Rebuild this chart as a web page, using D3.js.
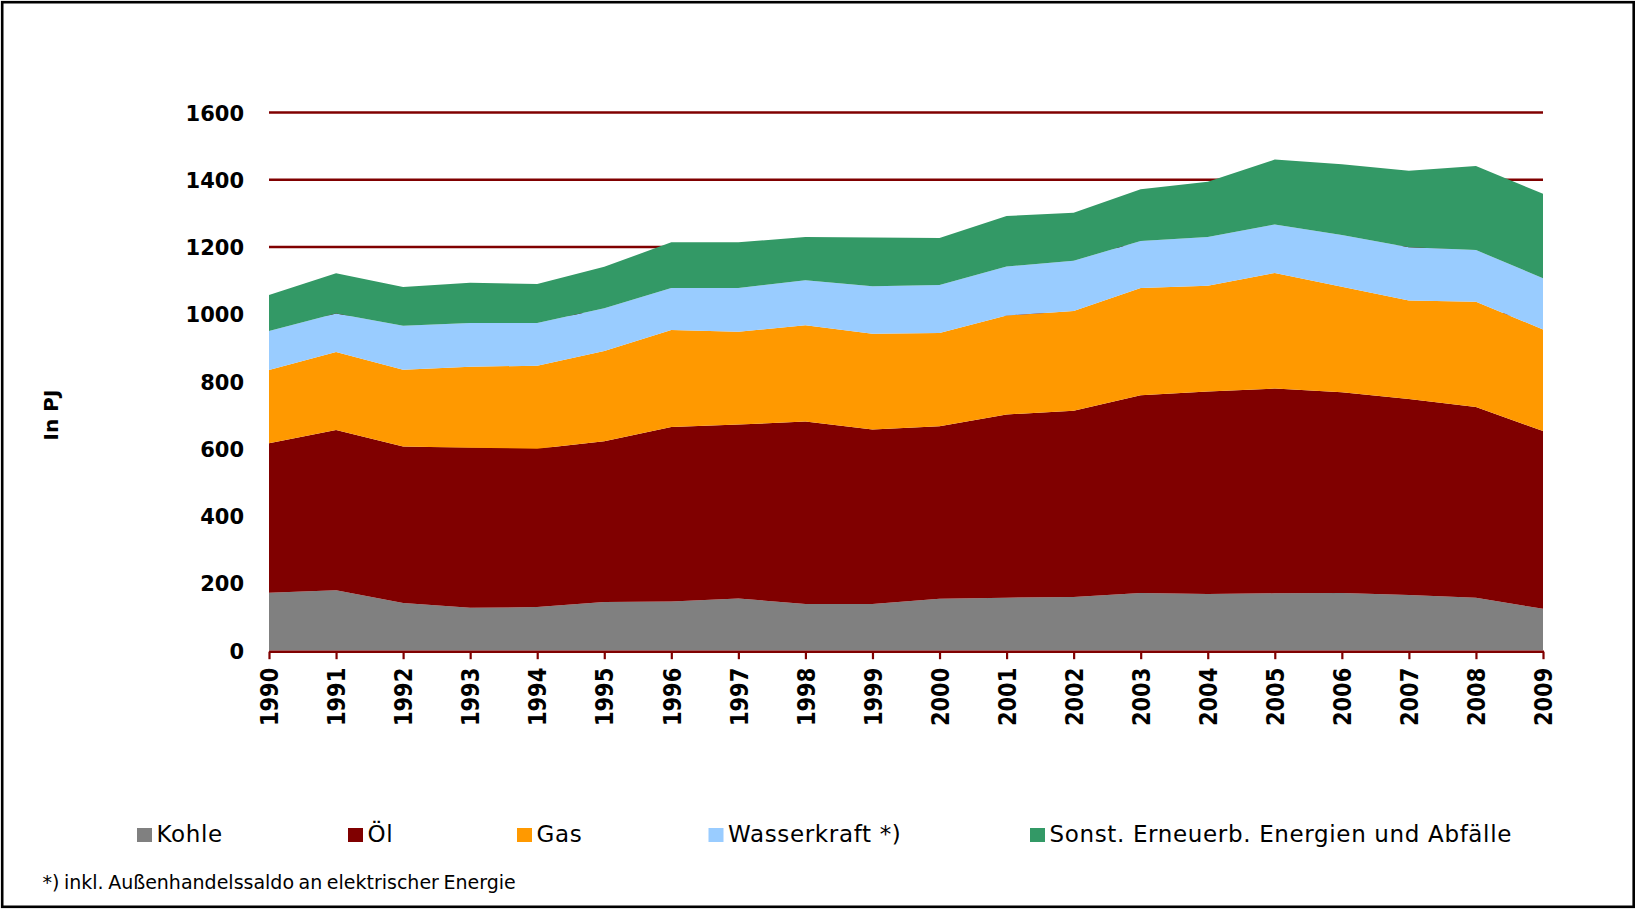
<!DOCTYPE html>
<html>
<head>
<meta charset="utf-8">
<script src="https://cdn.jsdelivr.net/npm/d3@7"></script>
<style>
  html, body { margin: 0; padding: 0; background: #fff; }
  svg { display: block; }
  text { font-family: "DejaVu Sans", Verdana, sans-serif; fill: #000; }
</style>
</head>
<body>
<svg id="chart" width="1635" height="909"></svg>
<script>
// ---- Data (PJ) ----
const years  = [1990,1991,1992,1993,1994,1995,1996,1997,1998,1999,2000,2001,2002,2003,2004,2005,2006,2007,2008,2009];
const kohle  = [172,179,141,127,129,144,146,155,138,138,154,157,159,171,168,170,171,165,157,124];
const oel    = [444,477,466,476,471,478,519,517,543,519,513,545,554,588,602,609,597,583,567,529];
const gas    = [218,232,228,241,247,269,288,276,286,285,277,294,297,319,315,344,314,293,313,302];
const wasser = [116,114,131,130,127,127,125,130,134,141,143,146,149,140,145,144,154,158,154,152];
const sonst  = [107,120,115,120,116,123,136,136,129,145,140,150,143,154,164,193,210,228,250,251];

const seriesNames  = ["Kohle", "Öl", "Gas", "Wasserkraft *)", "Sonst. Erneuerb. Energien und Abfälle"];
const seriesColors = ["#808080", "#800000", "#ff9900", "#99ccff", "#339966"];
const yTicks = [0,200,400,600,800,1000,1200,1400,1600];
const yLabel = "In PJ";
const footnote = "*) inkl. Außenhandelssaldo an elektrischer Energie";

// ---- Build table ----
const keys = ["kohle","oel","gas","wasser","sonst"];
const table = years.map((yr,i) => ({year:yr, kohle:kohle[i], oel:oel[i], gas:gas[i], wasser:wasser[i], sonst:sonst[i]}));

// ---- Layout ----
const svg = d3.select("#chart");
const pLeft = 269, pRight = 1543, pTop = 112.5, pBottom = 650.5;

const x = d3.scaleLinear().domain([years[0], years[years.length-1]]).range([pLeft, pRight]);
const y = d3.scaleLinear().domain([0, 1600]).range([pBottom, pTop]);

// outer border
svg.append("rect")
  .attr("x", 2.2).attr("y", 2.2).attr("width", 1631.5).attr("height", 904.6)
  .attr("fill", "none").attr("stroke", "#000").attr("stroke-width", 2.6);

// gridlines
svg.append("g").selectAll("line").data(yTicks.filter(d => d > 0)).join("line")
  .attr("x1", pLeft).attr("x2", pRight)
  .attr("y1", d => y(d)).attr("y2", d => y(d))
  .attr("stroke", "#800000").attr("stroke-width", 2.4);

// areas
const stack = d3.stack().keys(keys);
const layers = stack(table);
const area = d3.area()
  .x(d => x(d.data.year))
  .y0(d => y(d[0]))
  .y1(d => y(d[1]))
  .curve(d3.curveLinear);

svg.append("g").selectAll("path").data(layers).join("path")
  .attr("d", area)
  .attr("fill", (d,i) => seriesColors[i]);

// x axis
const xAxis = d3.axisBottom(x).tickValues(years).tickFormat(d3.format("d")).tickSize(7.5).tickSizeOuter(0);
const gx = svg.append("g").attr("transform", `translate(0,${pBottom + 1.2})`).call(xAxis);
gx.select(".domain").attr("stroke", "#800000").attr("stroke-width", 2.6)
  .attr("d", `M${pLeft},0H${pRight + 1}`);
gx.selectAll(".tick line").attr("stroke", "#800000").attr("stroke-width", 2.2);
gx.selectAll(".tick text")
  .attr("x", 0).attr("y", 0).attr("dy", "0.36em")
  .attr("transform", "translate(0,16) rotate(-90) scale(1,1.15)")
  .style("text-anchor", "end")
  .style("font-family", "'DejaVu Sans', Verdana, sans-serif")
  .style("font-size", "21px").style("font-weight", "bold").attr("fill", "#000");

// y axis labels
const yAxis = d3.axisLeft(y).tickValues(yTicks).tickFormat(d3.format("d")).tickSize(0).tickPadding(25);
const gy = svg.append("g").attr("transform", `translate(${pLeft},0)`).call(yAxis);
gy.select(".domain").remove();
gy.selectAll(".tick text")
  .attr("dy", "0.36em")
  .style("font-family", "'DejaVu Sans', Verdana, sans-serif")
  .style("font-size", "21px").style("font-weight", "bold").attr("fill", "#000");

// y axis title
svg.append("text")
  .attr("transform", "translate(58,415) rotate(-90)")
  .attr("text-anchor", "middle")
  .style("font-size", "20px").style("font-weight", "bold")
  .text(yLabel);

// legend
const legendX = [137, 348, 517, 708.5, 1030];
const lg = svg.append("g").selectAll("g").data(seriesNames).join("g")
  .attr("transform", (d,i) => `translate(${legendX[i]},0)`);
lg.append("rect").attr("x", 0).attr("y", 828).attr("width", 15).attr("height", 14)
  .attr("fill", (d,i) => seriesColors[i]);
lg.append("text").attr("x", 19.5).attr("y", 842)
  .style("font-size", "23px").style("letter-spacing", "0.65px")
  .text(d => d);

// footnote
svg.append("text").attr("x", 42.5).attr("y", 888.5)
  .style("font-size", "19px").style("word-spacing", "-1.5px")
  .text(footnote);
</script>
</body>
</html>
